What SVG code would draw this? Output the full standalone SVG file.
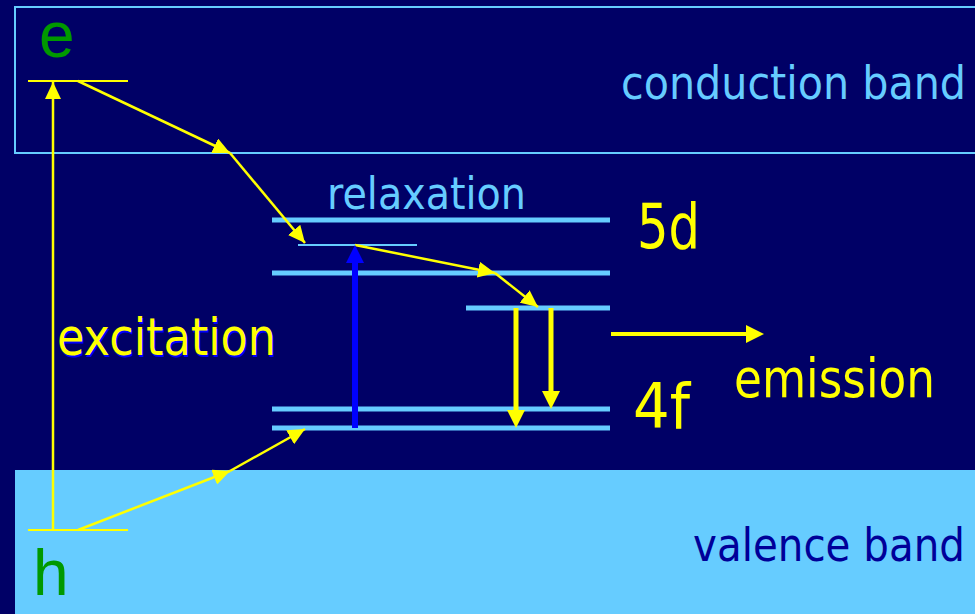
<svg xmlns="http://www.w3.org/2000/svg" width="975" height="614" viewBox="0 0 975 614">
  <style>
    .lbl { font-family: "DejaVu Sans", Tahoma, Verdana, sans-serif; }
    .carrier { font-family: "Liberation Sans", Arial, sans-serif; font-size: 64px; fill: #009900; }
    .lvl { stroke: #66ccff; stroke-width: 5; }
    .thin { stroke: #ffff00; stroke-width: 2.5; fill: none; marker-end: url(#ahThin); }
    .ylw { fill: #ffff00; }
  </style>
  <defs>
    <marker id="ahThin" markerUnits="userSpaceOnUse" markerWidth="18" markerHeight="16" refX="17" refY="8" orient="auto" viewBox="0 0 18 16">
      <path d="M0,0 L17,8 L0,16 z" fill="#ffff00"/>
    </marker>
    <marker id="ahYellow" markerUnits="userSpaceOnUse" markerWidth="19" markerHeight="19" refX="0" refY="9" orient="auto" viewBox="0 0 19 19">
      <path d="M0,0 L18,9 L0,18 z" fill="#ffff00"/>
    </marker>
    <marker id="ahBlue" markerUnits="userSpaceOnUse" markerWidth="19" markerHeight="19" refX="0" refY="9" orient="auto" viewBox="0 0 19 19">
      <path d="M0,0 L18,9 L0,18 z" fill="#0000ff"/>
    </marker>
  </defs>

  <rect x="0" y="0" width="975" height="614" fill="#000066"/>

  <g id="conduction-band">
    <rect x="15" y="7" width="980" height="146" fill="none" stroke="#66ccff" stroke-width="2"/>
    <text class="lbl" x="621" y="99" font-size="47" fill="#66ccff" textLength="345" lengthAdjust="spacingAndGlyphs">conduction band</text>
  </g>

  <g id="valence-band">
    <rect x="15" y="470" width="980" height="160" fill="#66ccff"/>
    <text class="lbl" x="693" y="561" font-size="47" fill="#000099" textLength="272" lengthAdjust="spacingAndGlyphs">valence band</text>
  </g>

  <g id="electron">
    <line x1="28" y1="81" x2="128" y2="81" stroke="#ffff00" stroke-width="2"/>
    <text class="carrier" x="39" y="57">e</text>
  </g>

  <g id="hole">
    <line x1="28" y1="530" x2="128" y2="530" stroke="#ffff00" stroke-width="2"/>
    <text class="carrier" x="33" y="595">h</text>
  </g>

  <g id="level-5d">
    <line class="lvl" x1="272" y1="220" x2="610" y2="220"/>
    <line class="lvl" x1="272" y1="273" x2="610" y2="273"/>
    <line class="lvl" x1="466" y1="308" x2="610" y2="308"/>
    <line x1="298" y1="245" x2="417" y2="245" stroke="#66ccff" stroke-width="2"/>
    <text class="lbl ylw" x="637" y="248" font-size="62" textLength="63" lengthAdjust="spacingAndGlyphs">5d</text>
  </g>

  <g id="level-4f">
    <line class="lvl" x1="272" y1="409" x2="610" y2="409"/>
    <line class="lvl" x1="272" y1="428" x2="610" y2="428"/>
    <text class="lbl ylw" x="633" y="428" font-size="62" textLength="57" lengthAdjust="spacingAndGlyphs">4f</text>
  </g>

  <g id="relaxation-label">
    <text class="lbl" x="327" y="209" font-size="45" fill="#66ccff" textLength="199" lengthAdjust="spacingAndGlyphs">relaxation</text>
  </g>

  <g id="excitation-label">
    <text class="lbl" x="58.5" y="356.5" font-size="51" fill="#0000ff" textLength="219" lengthAdjust="spacingAndGlyphs">excitation</text>
    <text class="lbl ylw" x="57" y="355" font-size="51" textLength="219" lengthAdjust="spacingAndGlyphs">excitation</text>
  </g>

  <g id="emission-label">
    <text class="lbl ylw" x="734" y="397" font-size="53" textLength="201" lengthAdjust="spacingAndGlyphs">emission</text>
  </g>

  <g id="connectors">
    <path class="thin" d="M53,530 L53,82"/>
    <path class="thin" d="M78,81 L230,153"/>
    <path class="thin" d="M230,153 L305,243"/>
    <path class="thin" d="M355,245 L495,273"/>
    <path class="thin" d="M495,273 L538,307"/>
    <path class="thin" d="M78,530 L230,471"/>
    <path class="thin" d="M230,471 L305,429"/>
    <path d="M355,428 L355,263" stroke="#0000ff" stroke-width="6" fill="none" marker-end="url(#ahBlue)"/>
    <path d="M516,308 L516,410" stroke="#ffff00" stroke-width="5" fill="none" marker-end="url(#ahYellow)"/>
    <path d="M551,308 L551,391" stroke="#ffff00" stroke-width="5" fill="none" marker-end="url(#ahYellow)"/>
    <path d="M611,334 L746,334" stroke="#ffff00" stroke-width="4" fill="none" marker-end="url(#ahYellow)"/>
  </g>
</svg>
